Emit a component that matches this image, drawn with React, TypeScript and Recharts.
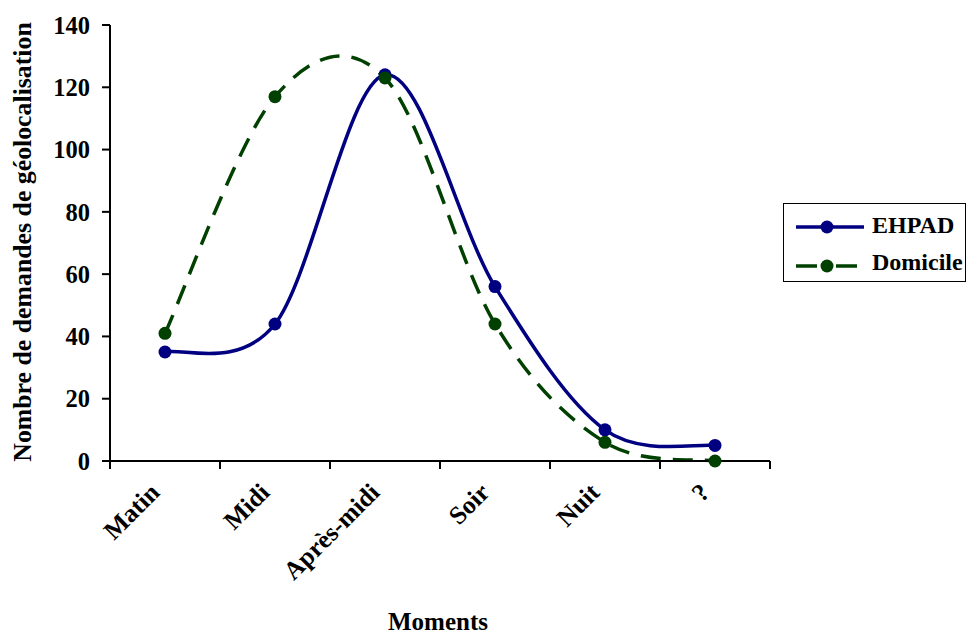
import React from "react";
import { LineChart, Line, XAxis, YAxis, Legend } from "recharts";

const moments = ["Matin", "Midi", "Après-midi", "Soir", "Nuit", "?"];
const ehpad = [35, 44, 124, 56, 10, 5];
const domicile = [41, 117, 123, 44, 6, 0];
const yTicks = [0, 20, 40, 60, 80, 100, 120, 140];

const FONT = "Liberation Serif, Times New Roman, Times, serif";
const BLUE = "#000080";
const GREEN = "#004000";

const data = moments.map((m, i) => ({ moment: m, EHPAD: ehpad[i], Domicile: domicile[i] }));

const txt = { fontFamily: FONT, fontWeight: 700, fontSize: 24, fill: "#000" };

// Excel style smoothing (Catmull-Rom, endpoints duplicated)
const excelSmooth = (context: any) => {
  let pts: number[][] = [];
  return {
    areaStart() {},
    areaEnd() {},
    lineStart() {
      pts = [];
    },
    lineEnd() {
      if (!pts.length) return;
      context.moveTo(pts[0][0], pts[0][1]);
      for (let i = 0; i < pts.length - 1; i++) {
        const p0 = pts[Math.max(i - 1, 0)];
        const p1 = pts[i];
        const p2 = pts[i + 1];
        const p3 = pts[Math.min(i + 2, pts.length - 1)];
        context.bezierCurveTo(
          p1[0] + (p2[0] - p0[0]) / 6,
          p1[1] + (p2[1] - p0[1]) / 6,
          p2[0] - (p3[0] - p1[0]) / 6,
          p2[1] - (p3[1] - p1[1]) / 6,
          p2[0],
          p2[1]
        );
      }
    },
    point(x: number, y: number) {
      pts.push([+x, +y]);
    },
  };
};

const XTick = (props: any) => {
  const { x, y, payload } = props;
  const half = payload && payload.offset ? payload.offset : 55;
  const tx = x - 4;
  const ty = y + 33;
  return (
    <g>
      <line x1={x - half} x2={x - half} y1={y} y2={y + 8} stroke="#000" strokeWidth={2} />
      <line x1={x + half} x2={x + half} y1={y} y2={y + 8} stroke="#000" strokeWidth={2} />
      <text
        x={tx}
        y={ty}
        transform={`rotate(-45, ${tx}, ${ty})`}
        textAnchor="end"
        style={{ ...txt, fontSize: 25.5 }}
      >
        {payload.value}
      </text>
    </g>
  );
};

const YTitle = (props: any) => {
  const vb = props.viewBox || { x: 0, y: 25, width: 110, height: 436 };
  const cx = vb.x + 31;
  const cy = vb.y + vb.height / 2 - 1;
  return (
    <text
      x={cx}
      y={cy}
      transform={`rotate(-90, ${cx}, ${cy})`}
      textAnchor="middle"
      style={{ ...txt, fontSize: 25.8 }}
    >
      Nombre de demandes de géolocalisation
    </text>
  );
};

const XTitle = (props: any) => {
  const vb = props.viewBox || { x: 110, y: 461, width: 660, height: 173 };
  return (
    <text x={vb.x + vb.width / 2 - 2} y={vb.y + 169} textAnchor="middle" style={{ ...txt, fontSize: 25 }}>
      Moments
    </text>
  );
};

const legendItems = [
  { name: "EHPAD", color: BLUE, dash: undefined as string | undefined, len: 68, lineY: 24, textY: 30 },
  { name: "Domicile", color: GREEN, dash: "21 19", len: 61, lineY: 63, textY: 67 },
];

const LegendBox = () => (
  <svg width={184} height={80} style={{ display: "block" }}>
    <rect x={0.5} y={0.5} width={182} height={78} fill="#fff" stroke="#000" strokeWidth={1} />
    {legendItems.map((it) => (
      <g key={it.name}>
        <line
          x1={13}
          x2={13 + it.len}
          y1={it.lineY}
          y2={it.lineY}
          stroke={it.color}
          strokeWidth={3.5}
          strokeDasharray={it.dash}
        />
        <circle cx={44} cy={it.lineY} r={6.5} fill={it.color} />
        <text x={89} y={it.textY} style={txt}>
          {it.name}
        </text>
      </g>
    ))}
  </svg>
);

const makeDot = (color: string) => (p: any) =>
  <circle key={`d-${p.index}`} cx={p.cx} cy={p.cy} r={6.5} fill={color} />;

export default function App() {
  return (
    <div style={{ width: 968, height: 634, background: "#fff", position: "relative" }}>
      <style>{"body{margin:0;background:#fff}"}</style>
      <LineChart width={968} height={634} data={data} margin={{ top: 25, right: 198, left: 0, bottom: 0 }}>
        <XAxis
          dataKey="moment"
          scale="band"
          height={173}
          interval={0}
          tickSize={0}
          tickMargin={0}
          tickLine={false}
          axisLine={{ stroke: "#000", strokeWidth: 2 }}
          tick={<XTick />}
          label={{ content: XTitle }}
        />
        <YAxis
          width={110}
          domain={[0, 140]}
          ticks={yTicks}
          interval={0}
          tickSize={8}
          tickMargin={12}
          axisLine={{ stroke: "#000", strokeWidth: 2 }}
          tickLine={{ stroke: "#000", strokeWidth: 2 }}
          tick={{ ...txt, fontSize: 24.5 }}
          label={{ content: YTitle }}
        />
        <Legend
          layout="vertical"
          align="center"
          verticalAlign="middle"
          wrapperStyle={{ position: "absolute", left: 783, top: 203, width: 184, height: 80 }}
          content={() => <LegendBox />}
        />
        <Line
          dataKey="EHPAD"
          type={excelSmooth as any}
          stroke={BLUE}
          strokeWidth={3.5}
          dot={makeDot(BLUE)}
          activeDot={false}
          isAnimationActive={false}
        />
        <Line
          dataKey="Domicile"
          type={excelSmooth as any}
          stroke={GREEN}
          strokeWidth={3.5}
          strokeDasharray="20 12"
          dot={makeDot(GREEN)}
          activeDot={false}
          isAnimationActive={false}
        />
      </LineChart>
    </div>
  );
}
